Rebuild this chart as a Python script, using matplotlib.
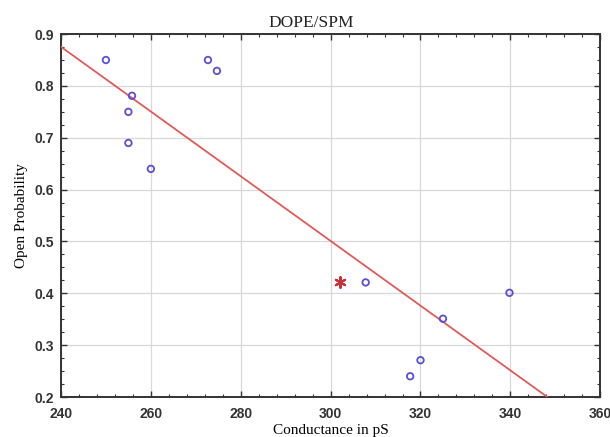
import matplotlib.pyplot as plt
from matplotlib.ticker import MultipleLocator

# measured points (conductance in pS, open probability)
conductance = [250, 255.8, 255, 255, 260, 272.7, 274.7, 307.8, 339.8, 325, 320, 317.7]
open_prob = [0.85, 0.781, 0.75, 0.69, 0.64, 0.85, 0.829, 0.421, 0.401, 0.351, 0.271, 0.24]

# highlighted point
star_x = [302.1]
star_y = [0.421]

# regression line
fit_slope = -0.00624
fit_intercept = 2.373
fit_x = [240, 360]

fig = plt.figure(figsize=(6.1, 4.37), dpi=100)
ax = fig.add_axes([0.1, 0.0915, 0.884, 0.8305])

fit_y = [fit_intercept + fit_slope * x for x in fit_x]
ax.plot(fit_x, fit_y, color='#e05a5a', lw=1.3, zorder=3)
ax.scatter(conductance, open_prob, s=22, facecolors='none', edgecolors='#5b4fd6',
           linewidths=1.3, zorder=4)
ax.scatter(star_x, star_y, marker=(6, 2, 0), s=60, color='#c8303a', linewidths=1.5, zorder=4)

ax.set_xlim(240, 360)
ax.set_ylim(0.2, 0.9)
ax.xaxis.set_major_locator(MultipleLocator(20))
ax.xaxis.set_minor_locator(MultipleLocator(4))
ax.yaxis.set_major_locator(MultipleLocator(0.1))
ax.yaxis.set_minor_locator(MultipleLocator(0.025))
ax.yaxis.set_major_formatter(plt.FuncFormatter(lambda v, p: f'{v:.1f}'))

ax.grid(True, which='major', color='#d8d8d8', lw=0.9)
ax.set_axisbelow(True)
ax.tick_params(which='both', direction='in', top=True, right=True, color='#333333')
ax.tick_params(which='major', length=4, width=1)
ax.tick_params(which='minor', length=2.5, width=0.8)
for lab in ax.get_xticklabels() + ax.get_yticklabels():
    lab.set_fontfamily('Liberation Sans')
    lab.set_fontweight('bold')
    lab.set_fontsize(10)
    lab.set_color('#333333')
ax.tick_params(axis='x', pad=7)
ax.tick_params(axis='y', pad=5)

for s in ax.spines.values():
    s.set_linewidth(1.4)
    s.set_color('#333333')

fig.text(311 / 610, 1 - 27 / 437, 'DOPE/SPM', family='Liberation Serif', fontsize=12.5,
         ha='center', va='baseline', color='#222222')
ax.set_xlabel('Conductance in pS', family='Liberation Serif', fontsize=11, labelpad=2)
ax.set_ylabel('Open Probability', family='Liberation Serif', fontsize=11, labelpad=5)

fig.savefig('out.png', dpi=100)
